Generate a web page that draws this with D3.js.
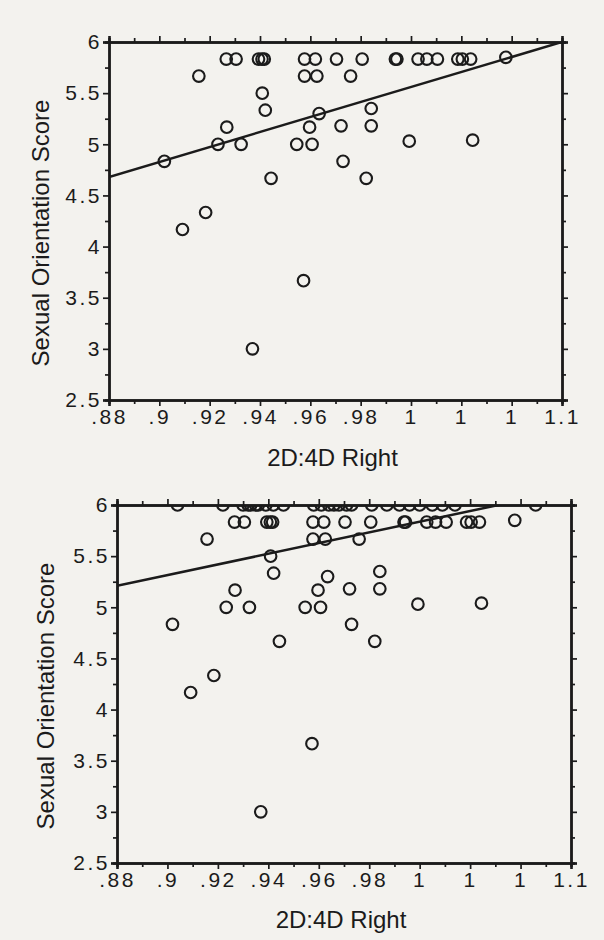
<!DOCTYPE html>
<html>
<head>
<meta charset="utf-8">
<script src="https://cdn.jsdelivr.net/npm/d3@7"></script>
<style>
  body { margin: 0; background: #f3f2ee; }
  svg { display: block; }
  text { font-family: "Liberation Sans", Arial, sans-serif; fill: #1b1b1b; }
</style>
</head>
<body>
<div id="viz"></div>
<script>
// data
var xTicks = [0.88, 0.90, 0.92, 0.94, 0.96, 0.98, 1.00, 1.02, 1.04, 1.06];
var xTickLabels = [".88", ".9", ".92", ".94", ".96", ".98", "1", "1", "1", "1.1"];
var yTicks = [2.5, 3, 3.5, 4, 4.5, 5, 5.5, 6];
var yTickLabels = ["2.5", "3", "3.5", "4", "4.5", "5", "5.5", "6"];

// participants scoring below 6 (both panels)
var ratioRight = [0.902, 0.9157, 0.9266, 0.9305, 0.9394, 0.9408, 0.9417, 0.9409, 0.9421,
  0.9268, 0.9233, 0.9325, 0.9444, 0.9184, 0.9092, 0.9577, 0.962, 0.9577, 0.9626,
  0.9704, 0.9806, 0.976, 0.9635, 0.9597, 0.9546, 0.9607, 0.9722, 0.973, 0.9842,
  0.9842, 0.9822, 0.9938, 0.9944, 0.9993, 1.0028, 1.0063, 1.0105, 1.0186, 1.0204,
  1.0237, 1.0245, 1.0377, 0.9573, 0.937];
var orientScore = [4.833, 5.667, 5.833, 5.833, 5.833, 5.833, 5.833, 5.5, 5.333,
  5.167, 5.0, 5.0, 4.667, 4.333, 4.167, 5.833, 5.833, 5.667, 5.667,
  5.833, 5.833, 5.667, 5.3, 5.167, 5.0, 5.0, 5.18, 4.833, 5.35,
  5.18, 4.667, 5.833, 5.833, 5.03, 5.833, 5.833, 5.833, 5.833, 5.833,
  5.833, 5.04, 5.85, 3.667, 3.0];

// extra participants scoring 6 (lower panel only)
var ratioRightSix = [0.904, 0.922, 0.930, 0.932, 0.933, 0.935, 0.936, 0.939, 0.942,
  0.946, 0.958, 0.961, 0.964, 0.966, 0.968, 0.971, 0.973, 0.981, 0.987, 0.992,
  0.996, 1.000, 1.005, 1.009, 1.014, 1.046];

// fitted lines: [x0, y0, x1, y1]
var fitTop = [0.88, 4.68, 1.06, 6.0];
var fitBottom = [0.88, 5.21, 1.06, 6.15];

var W = 604, H = 940;
var svg = d3.select("#viz").append("svg")
  .attr("width", W)
  .attr("height", H);

var pointsTop = ratioRight.map(function(x, i) { return [x, orientScore[i]]; });
var pointsBottom = pointsTop.concat(ratioRightSix.map(function(x) { return [x, 6]; }));

drawPanel({ id: "p1", left: 109, right: 562, top: 42, bottom: 400,
  points: pointsTop, fit: fitTop, ylabX: 49, xlabY: 466 });
drawPanel({ id: "p2", left: 117, right: 571, top: 505, bottom: 863,
  points: pointsBottom, fit: fitBottom, ylabX: 54, xlabY: 928 });

function drawPanel(c) {
  var x = d3.scaleLinear().domain([0.88, 1.06]).range([c.left, c.right]);
  var y = d3.scaleLinear().domain([2.5, 6]).range([c.bottom, c.top]);
  var g = svg.append("g");

  g.append("clipPath").attr("id", "clip-" + c.id)
    .append("rect")
    .attr("x", c.left).attr("y", c.top)
    .attr("width", c.right - c.left).attr("height", c.bottom - c.top);

  var minorX = d3.range(0.89, 1.06, 0.02);
  var minorY = d3.range(2.75, 6, 0.5);

  // bottom axis
  g.append("g").attr("transform", "translate(0," + c.bottom + ")")
    .call(d3.axisBottom(x).tickValues(xTicks).tickSize(6).tickPadding(3)
      .tickFormat(function(d, i) { return xTickLabels[i]; }));
  g.append("g").attr("transform", "translate(0," + c.bottom + ")")
    .call(d3.axisBottom(x).tickValues(minorX).tickSize(4).tickFormat(""));
  // top axis
  g.append("g").attr("transform", "translate(0," + c.top + ")")
    .call(d3.axisTop(x).tickValues(xTicks).tickSize(6).tickFormat(""));
  g.append("g").attr("transform", "translate(0," + c.top + ")")
    .call(d3.axisTop(x).tickValues(minorX).tickSize(4).tickFormat(""));
  // left axis
  g.append("g").attr("transform", "translate(" + c.left + ",0)")
    .call(d3.axisLeft(y).tickValues(yTicks).tickSize(6).tickPadding(1)
      .tickFormat(function(d, i) { return yTickLabels[i]; }));
  g.append("g").attr("transform", "translate(" + c.left + ",0)")
    .call(d3.axisLeft(y).tickValues(minorY).tickSize(4).tickFormat(""));
  // right axis
  g.append("g").attr("transform", "translate(" + c.right + ",0)")
    .call(d3.axisRight(y).tickValues(yTicks).tickSize(6).tickFormat(""));
  g.append("g").attr("transform", "translate(" + c.right + ",0)")
    .call(d3.axisRight(y).tickValues(minorY).tickSize(4).tickFormat(""));

  g.selectAll(".domain").attr("stroke", "#1b1b1b").attr("stroke-width", 2.4);
  g.selectAll(".tick line").attr("stroke", "#1b1b1b").attr("stroke-width", 1.7);
  g.selectAll(".tick text")
    .attr("font-size", "21px")
    .attr("letter-spacing", "2.5px")
    .attr("fill", "#1b1b1b");

  // fitted line
  g.append("line")
    .attr("clip-path", "url(#clip-" + c.id + ")")
    .attr("x1", x(c.fit[0])).attr("y1", y(c.fit[1]))
    .attr("x2", x(c.fit[2])).attr("y2", y(c.fit[3]))
    .attr("stroke", "#1b1b1b")
    .attr("stroke-width", 2.5);

  // points
  g.append("g").attr("clip-path", "url(#clip-" + c.id + ")")
    .selectAll("circle")
    .data(c.points)
    .enter()
    .append("circle")
    .attr("cx", function(d) { return x(d[0]); })
    .attr("cy", function(d) { return y(d[1]); })
    .attr("r", 5.8)
    .attr("fill", "none")
    .attr("stroke", "#1b1b1b")
    .attr("stroke-width", 2.1);

  // titles
  g.append("text")
    .attr("x", (c.left + c.right) / 2 - 3)
    .attr("y", c.xlabY)
    .attr("text-anchor", "middle")
    .attr("font-size", "24px")
    .text("2D:4D Right");
  g.append("text")
    .attr("transform", "translate(" + c.ylabX + "," + ((c.top + c.bottom) / 2 + 12) + ") rotate(-90)")
    .attr("text-anchor", "middle")
    .attr("font-size", "24px")
    .text("Sexual Orientation Score");
}
</script>
</body>
</html>
